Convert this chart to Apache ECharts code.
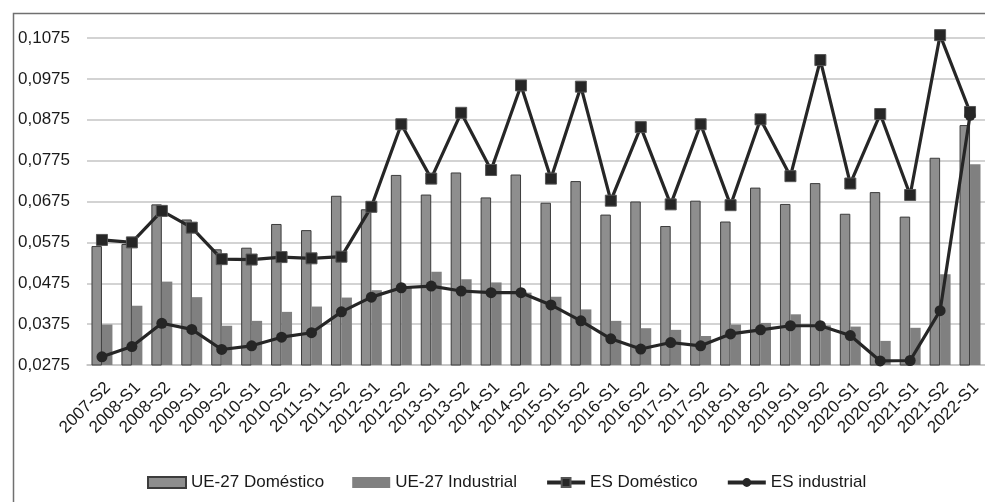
<!DOCTYPE html>
<html>
<head>
<meta charset="utf-8">
<script src="https://cdn.jsdelivr.net/npm/echarts@6/dist/echarts.min.js"></script>
<style>
html,body{margin:0;padding:0;background:#fff;}
#c{width:985px;height:502px;}
</style>
</head>
<body>
<div id="c"></div>
<script>
const categories = ['2007-S2','2008-S1','2008-S2','2009-S1','2009-S2','2010-S1','2010-S2','2011-S1','2011-S2','2012-S1','2012-S2','2013-S1','2013-S2','2014-S1','2014-S2','2015-S1','2015-S2','2016-S1','2016-S2','2017-S1','2017-S2','2018-S1','2018-S2','2019-S1','2019-S2','2020-S1','2020-S2','2021-S1','2021-S2','2022-S1'];
const ueDomestico = [0.0566,0.0571,0.0668,0.0631,0.0558,0.0562,0.0620,0.0605,0.0689,0.0656,0.0740,0.0692,0.0746,0.0685,0.0741,0.0672,0.0725,0.0643,0.0675,0.0615,0.0677,0.0626,0.0709,0.0669,0.0720,0.0645,0.0698,0.0638,0.0782,0.0862];
const ueIndustrial = [0.0374,0.0420,0.0479,0.0441,0.0371,0.0383,0.0405,0.0418,0.0440,0.0458,0.0466,0.0503,0.0485,0.0477,0.0452,0.0442,0.0411,0.0383,0.0365,0.0361,0.0346,0.0374,0.0378,0.0399,0.0372,0.0369,0.0334,0.0366,0.0497,0.0766];
const esDomestico = [0.0581,0.0575,0.0652,0.0611,0.0534,0.0533,0.0539,0.0536,0.0540,0.0662,0.0864,0.0731,0.0892,0.0752,0.0959,0.0731,0.0956,0.0677,0.0857,0.0668,0.0864,0.0666,0.0876,0.0737,0.1021,0.0719,0.0889,0.0691,0.1082,0.0894];
const esIndustrial = [0.0295,0.0320,0.0377,0.0362,0.0313,0.0322,0.0343,0.0354,0.0405,0.0441,0.0464,0.0468,0.0456,0.0452,0.0452,0.0422,0.0383,0.0339,0.0314,0.0330,0.0322,0.0351,0.0361,0.0371,0.0371,0.0347,0.0285,0.0286,0.0408,0.0886];
const seriesNames = ['UE-27 Doméstico','UE-27 Industrial','ES Doméstico','ES industrial'];

const font = '"Liberation Sans", Arial, sans-serif';
const chart = echarts.init(document.getElementById('c'));
chart.setOption({
  animation: false,
  backgroundColor: '#fff',
  textStyle: {fontFamily: font},
  graphic: [{
    type: 'rect', left: 11, top: 11, z: -1,
    shape: {width: 1100, height: 1000},
    style: {fill: 'none', stroke: '#707070', lineWidth: 1.5}
  }],
  grid: {left: 87, right: -2, top: 38, height: 327, containLabel: false},
  legend: {
    left: 142, top: 469, itemGap: 28, itemWidth: 38, itemHeight: 11,
    lineStyle: {width: 4},
    textStyle: {fontSize: 17, color: '#1a1a1a', fontFamily: font},
    data: [
      {name: seriesNames[0], icon: 'rect'},
      {name: seriesNames[1], icon: 'rect'},
      {name: seriesNames[2], lineStyle: {width: 4, color: '#262626'}},
      {name: seriesNames[3], lineStyle: {width: 4, color: '#262626'}}
    ]
  },
  xAxis: {
    type: 'category', data: categories,
    axisLine: {lineStyle: {color: '#c4c4c4', width: 1.5}},
    axisTick: {show: false},
    axisLabel: {rotate: 45, interval: 0, fontSize: 17, color: '#1a1a1a', margin: 14, verticalAlign: 'top', fontFamily: font}
  },
  yAxis: {
    type: 'value', min: 0.0275, max: 0.1075, interval: 0.01,
    axisLine: {show: false}, axisTick: {show: false},
    splitLine: {lineStyle: {color: '#c4c4c4', width: 1.5}},
    axisLabel: {fontSize: 17, color: '#1a1a1a', margin: 17, fontFamily: font,
      formatter: v => v.toFixed(4).replace('.', ',')}
  },
  series: [
    {name: seriesNames[0], type: 'bar', data: ueDomestico, barGap: '0%', barCategoryGap: '30%',
      itemStyle: {color: '#8e8e8e', borderColor: '#3c3c3c', borderWidth: 1}},
    {name: seriesNames[1], type: 'bar', data: ueIndustrial,
      itemStyle: {color: '#808080'}},
    {name: seriesNames[2], type: 'line', data: esDomestico, symbol: 'rect', symbolSize: 11, clip: false,
      lineStyle: {color: '#262626', width: 3.2}, itemStyle: {color: '#262626', borderColor: '#555', borderWidth: 1}, z: 3},
    {name: seriesNames[3], type: 'line', data: esIndustrial, symbol: 'circle', symbolSize: 11, clip: false,
      lineStyle: {color: '#262626', width: 3.2}, itemStyle: {color: '#262626'}, z: 4}
  ]
});
</script>
</body>
</html>
